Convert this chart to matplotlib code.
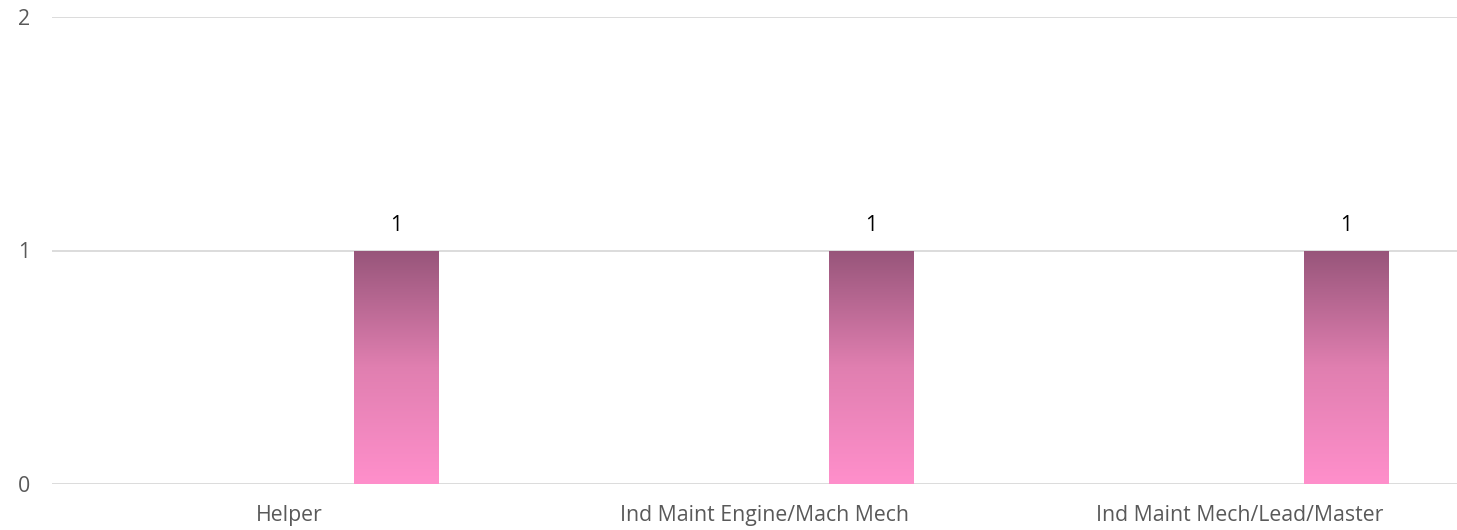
import numpy as np
import matplotlib
matplotlib.use("Agg")
import matplotlib.pyplot as plt
from matplotlib.colors import LinearSegmentedColormap

categories = ["Helper", "Ind Maint Engine/Mach Mech", "Ind Maint Mech/Lead/Master"]
values = [1, 1, 1]

plt.rcParams['font.family'] = ['Open Sans', 'DejaVu Sans']

fig = plt.figure(figsize=(14.57, 5.30), dpi=100)
ax = fig.add_axes([52 / 1457, 1 - 484 / 530, 1405 / 1457, (484 - 17) / 530])

# gradient from light pink (bottom) to dark mauve (top)
cmap = LinearSegmentedColormap.from_list("pinkgrad", ["#ff8fcb", "#e07fb0", "#97557a"])
grad = np.linspace(0, 1, 256).reshape(-1, 1)

x = np.arange(len(categories))
offset = 0.224
width = 0.177
bars = ax.bar(x + offset, values, width=width, color="none", zorder=3)
for b, v in zip(bars, values):
    x0 = b.get_x()
    im = ax.imshow(grad, cmap=cmap, origin="lower", aspect="auto",
                   extent=[x0, x0 + b.get_width(), 0, v], zorder=3)
    im.set_clip_path(b)
    ax.text(x0 + b.get_width() / 2, v + 0.06, str(v), ha="center", va="bottom",
            fontsize=15.3, color="black")

ax.set_xlim(-0.5, -0.5 + 1405 / 475)
ax.set_ylim(0, 2)
ax.set_yticks([0, 1, 2])
ax.set_xticks(x)
ax.set_xticklabels(categories)
ax.yaxis.grid(True, color="#d9d9d9", linewidth=1.3)
ax.set_axisbelow(True)
for s in ax.spines.values():
    s.set_visible(False)
ax.tick_params(axis="both", length=0, labelsize=15.3, colors="#595959")
ax.tick_params(axis="y", pad=16)
ax.tick_params(axis="x", pad=15)

fig.savefig("out.png", dpi=100)
